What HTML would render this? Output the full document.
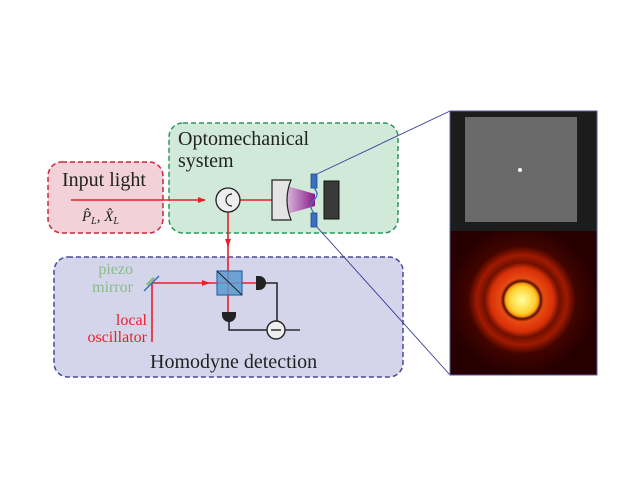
<!DOCTYPE html>
<html><head><meta charset="utf-8"><style>
html,body{margin:0;padding:0;background:#fff;}
svg{display:block;}
text{font-family:"Liberation Serif",serif;}
</style></head><body>
<svg width="640" height="480" viewBox="0 0 640 480" xmlns="http://www.w3.org/2000/svg">
<defs>
<linearGradient id="beam" x1="0" x2="1">
<stop offset="0" stop-color="#d8b8d8"/><stop offset="1" stop-color="#8a1a8a"/></linearGradient>
<radialGradient id="heat" gradientUnits="userSpaceOnUse" cx="522" cy="300" r="75">
<stop offset="0" stop-color="#ffffa0"/><stop offset="0.18" stop-color="#ffd030"/>
<stop offset="0.22" stop-color="#ff9a10"/><stop offset="0.25" stop-color="#501000"/>
<stop offset="0.29" stop-color="#e84a10"/><stop offset="0.42" stop-color="#d83008"/>
<stop offset="0.5" stop-color="#701000"/><stop offset="0.6" stop-color="#a01a00"/>
<stop offset="0.72" stop-color="#400400"/><stop offset="1" stop-color="#260000"/></radialGradient>
<marker id="ar" markerWidth="8" markerHeight="6" refX="7" refY="3" orient="auto" markerUnits="userSpaceOnUse">
<path d="M0,0 L8,3 L0,6 Z" fill="#e8202a"/></marker>
</defs>
<rect x="48" y="162" width="115" height="71" rx="14" fill="#f2d2d8" stroke="#c8283c" stroke-width="1.5" stroke-dasharray="5,3"/>
<rect x="169" y="123" width="229" height="110" rx="14" fill="#d0e9d9" stroke="#2a9a5a" stroke-width="1.5" stroke-dasharray="5,3"/>
<rect x="54" y="257" width="349" height="120" rx="14" fill="#d4d5ea" stroke="#4a4a9a" stroke-width="1.5" stroke-dasharray="5,3"/>
<text x="62" y="186" font-size="20" fill="#222">Input light</text>
<text x="82" y="221" font-size="15" fill="#222" font-style="italic">P̂<tspan font-size="10" dy="3">L</tspan><tspan dy="-3">, X̂</tspan><tspan font-size="10" dy="3">L</tspan></text>
<text x="178" y="145" font-size="20" fill="#222">Optomechanical</text>
<text x="178" y="167" font-size="20" fill="#222">system</text>
<text x="133" y="274" font-size="16" fill="#8abb8a" text-anchor="end">piezo</text>
<text x="133" y="292" font-size="16" fill="#8abb8a" text-anchor="end">mirror</text>
<text x="147" y="325" font-size="16" fill="#e8202a" text-anchor="end">local</text>
<text x="147" y="342" font-size="16" fill="#e8202a" text-anchor="end">oscillator</text>
<text x="150" y="368" font-size="20" fill="#222">Homodyne detection</text>
<line x1="71" y1="200" x2="205" y2="200" stroke="#e8202a" stroke-width="1.6" marker-end="url(#ar)"/>
<line x1="240" y1="200" x2="272" y2="200" stroke="#e8202a" stroke-width="1.6"/>
<line x1="228" y1="212" x2="228" y2="246" stroke="#e8202a" stroke-width="1.6" marker-end="url(#ar)"/>
<line x1="228" y1="240" x2="228" y2="312" stroke="#e8202a" stroke-width="1.6"/>
<line x1="152" y1="283" x2="209" y2="283" stroke="#e8202a" stroke-width="1.6" marker-end="url(#ar)"/>
<line x1="205" y1="283" x2="256" y2="283" stroke="#e8202a" stroke-width="1.6"/>
<line x1="152" y1="283" x2="152" y2="342" stroke="#e8202a" stroke-width="1.6"/>
<circle cx="228" cy="200" r="12" fill="#eee" stroke="#222" stroke-width="1.3"/>
<path d="M232,194 A6,6 0 1 0 232,206" fill="none" stroke="#222" stroke-width="1.2"/>
<path d="M287,186 L315,194 L315,206 L287,214 Z" fill="url(#beam)"/>
<path d="M272,180 L291,180 Q283,200 291,220 L272,220 Z" fill="#e4e4e4" stroke="#222" stroke-width="1.2"/>
<rect x="324" y="181" width="15" height="38" fill="#3a3a3a" stroke="#111"/>
<rect x="311" y="174" width="6" height="14" fill="#3a70c0" stroke="#1e4a90" stroke-width="0.8"/>
<rect x="311" y="213" width="6" height="14" fill="#3a70c0" stroke="#1e4a90" stroke-width="0.8"/>
<path d="M314,188 Q320,194 314,200 Q308,206 314,213" fill="none" stroke="#3a70c0" stroke-width="1.3"/>
<line x1="317" y1="174" x2="450" y2="111" stroke="#3a3a9a" stroke-width="0.9"/>
<line x1="317" y1="227" x2="450" y2="375" stroke="#3a3a9a" stroke-width="0.9"/>
<line x1="144" y1="291" x2="159" y2="276" stroke="#2a70c0" stroke-width="1.4"/>
<line x1="147" y1="285" x2="154" y2="278" stroke="#8abb8a" stroke-width="3"/>
<rect x="217" y="271" width="25" height="24" fill="#5a9ad0" fill-opacity="0.85" stroke="#2a6aaa" stroke-width="1.2"/>
<line x1="217" y1="271" x2="242" y2="295" stroke="#222" stroke-width="1"/>
<path d="M256,276 L259,276 A7,7 0 0 1 259,290 L256,290 Z" fill="#222"/>
<path d="M222,312 L236,312 L236,315 A7,7 0 0 1 222,315 Z" fill="#222"/>
<polyline points="262,283 277,283 277,321" fill="none" stroke="#222" stroke-width="1.5"/>
<polyline points="229,321 229,330 267,330" fill="none" stroke="#222" stroke-width="1.5"/>
<circle cx="276" cy="330" r="9" fill="#eee" stroke="#222" stroke-width="1.4"/>
<line x1="271" y1="330" x2="281" y2="330" stroke="#222" stroke-width="1.4"/>
<line x1="285" y1="330" x2="300" y2="330" stroke="#222" stroke-width="1.4"/>
<rect x="450" y="111" width="147" height="121" fill="#1c1c1c"/>
<rect x="465" y="117" width="112" height="105" fill="#6a6a6a"/>
<circle cx="520" cy="170" r="2" fill="#fff"/>
<rect x="450" y="231" width="147" height="144" fill="url(#heat)"/>
<rect x="450" y="111" width="147" height="264" fill="none" stroke="#5a5aa0" stroke-width="1"/>
</svg>
</body></html>
